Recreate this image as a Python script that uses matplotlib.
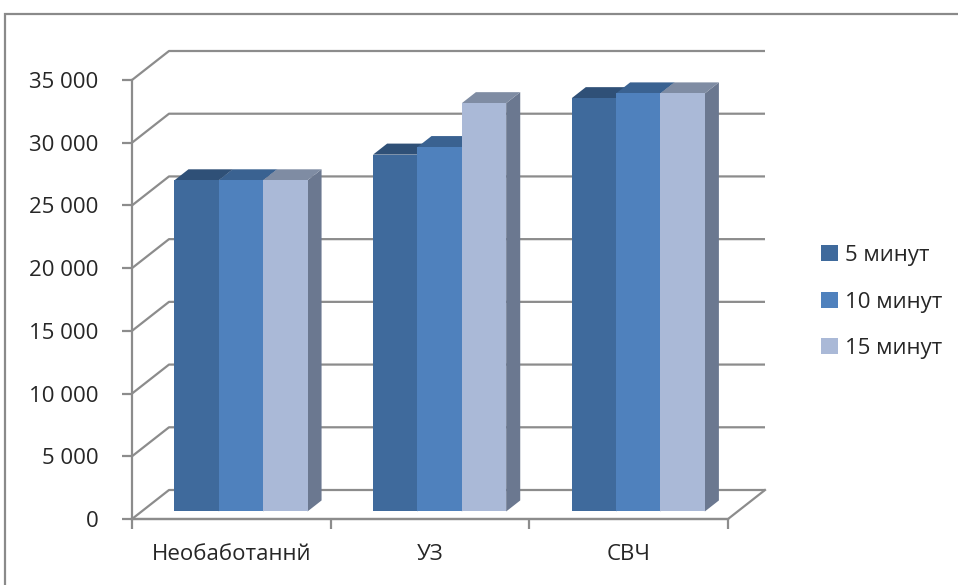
import matplotlib.pyplot as plt
from matplotlib.patches import Polygon, Patch, Rectangle

plt.rcParams['font.family'] = ['Open Sans', 'DejaVu Sans']

categories = ['Необаботаннй', 'УЗ', 'СВЧ']
series_names = ['5 минут', '10 минут', '15 минут']
minutes_5 = [26400, 28450, 32950]
minutes_10 = [26400, 29050, 33330]
minutes_15 = [26400, 32550, 33330]
series = [minutes_5, minutes_10, minutes_15]
yticks = list(range(0, 35001, 5000))

front_colors = ['#3f6a9c', '#4f81bd', '#aab9d7']
top_colors = ['#2f5077', '#3a6291', '#7f8ca3']
side_color = '#6b7890'
grid_color = '#8c8c8c'
text_color = '#262626'

W, H = 958, 585
fig = plt.figure(figsize=(W / 100, H / 100), dpi=100)

# front plane of the fake 3D box in pixels
x0px, x1px, y0px, y1px = 132, 728, 519, 80
ax = fig.add_axes([x0px / W, 1 - y0px / H, (x1px - x0px) / W, (y0px - y1px) / H])
ax.set_xlim(0, 3)
ax.set_ylim(0, 35000)

# depth of the box in data units
ddx = 37 / ((x1px - x0px) / 3)
ddy = 29 / ((y0px - y1px) / 35000)

# walls and gridlines
for v in yticks:
    ax.plot([0, ddx, 3 + ddx], [v, v + ddy, v + ddy], color=grid_color,
            lw=1.6, clip_on=False, zorder=1, solid_capstyle='butt')
ax.plot([0, 3, 3 + ddx], [0, 0, ddy], color=grid_color, lw=1.6,
        clip_on=False, zorder=1)

# bars
f0, depth = 0.26, 0.38
group_w = 0.67
bw = group_w / 3
for i in range(len(categories)):
    for j, vals in enumerate(series):
        xl = i + 0.5 - group_w / 2 + j * bw + f0 * ddx
        xr = xl + bw
        b = f0 * ddy
        t = b + vals[i]
        z = 3 + j * 0.01
        ax.add_patch(Polygon([(xr, b), (xr, t), (xr + depth * ddx, t + depth * ddy),
                              (xr + depth * ddx, b + depth * ddy)],
                             closed=True, facecolor=side_color, edgecolor='none',
                             clip_on=False, zorder=z))
        ax.add_patch(Polygon([(xl, t), (xr, t), (xr + depth * ddx, t + depth * ddy),
                              (xl + depth * ddx, t + depth * ddy)],
                             closed=True, facecolor=top_colors[j], edgecolor='none',
                             clip_on=False, zorder=z))
        ax.bar(xl, vals[i], width=bw, bottom=b, align='edge',
               color=front_colors[j], edgecolor='none', clip_on=False, zorder=z + 0.005)

# axes styling
for s in ['top', 'right']:
    ax.spines[s].set_visible(False)
for s in ['left', 'bottom']:
    ax.spines[s].set_color(grid_color)
    ax.spines[s].set_linewidth(1.6)
ax.set_yticks(yticks)
ax.set_yticklabels([f'{v:,}'.replace(',', ' ') for v in yticks])
ax.tick_params(axis='y', length=7, width=1.6, color=grid_color, pad=17,
               labelsize=16, labelcolor=text_color)
ax.set_xticks([0, 1, 2, 3])
ax.set_xticklabels([])
ax.set_xticks([0.5, 1.5, 2.5], minor=True)
ax.set_xticklabels(categories, minor=True)
ax.tick_params(axis='x', which='major', length=7, width=1.6, color=grid_color)
ax.tick_params(axis='x', which='minor', length=0, pad=18, labelsize=16,
               labelcolor=text_color)
ax.patch.set_visible(False)

handles = [Patch(facecolor=c, edgecolor='none') for c in front_colors]
fig.legend(handles, series_names, loc='center left',
           bbox_to_anchor=(801 / W, 1 - 302 / H), frameon=False, fontsize=16,
           handlelength=0.75, handleheight=0.75, handletextpad=0.35,
           labelspacing=1.15, labelcolor=text_color)

fig.patches.append(Rectangle((5 / W, -0.1), 1.2, 1.1 - 14 / H, transform=fig.transFigure,
                             fill=False, edgecolor='#8a8a8a', lw=1.6))

fig.savefig('out.png', dpi=100)
